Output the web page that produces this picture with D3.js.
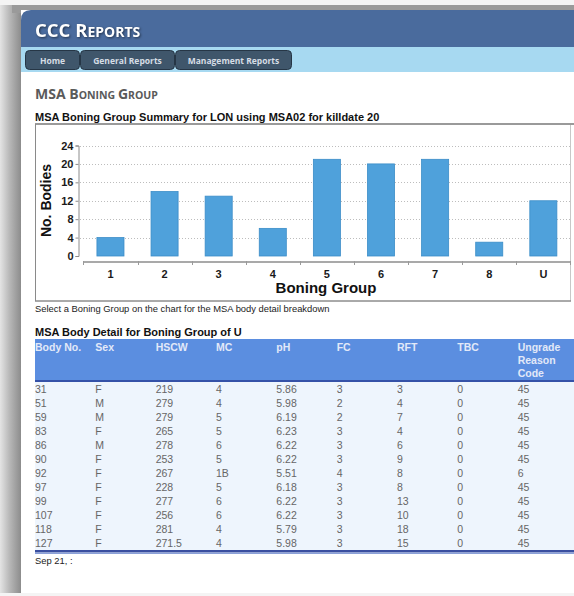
<!DOCTYPE html>
<html>
  <head>
    <meta charset="utf-8">
    <script type="text/javascript" src="https://d3js.org/d3.v7.min.js"></script>
    <style>
      body { margin: 0; background: #fff; }
      svg { display: block; }
      .chartfont { font-family: "Liberation Sans", Arial, sans-serif; }
      .hdr { font-family: "Open Sans", "Noto Sans", sans-serif; font-weight: bold; }
    </style>
  </head>
  <body>
    <script type="text/javascript">
      // boning group chart data
      var groups = ["1", "2", "3", "4", "5", "6", "7", "8", "U"];
      var bodies = [4, 14, 13, 6, 21, 20, 21, 3, 12];
      var yTicks = [0, 4, 8, 12, 16, 20, 24];

      // body detail table (group U)
      var columns = ["Body No.", "Sex", "HSCW", "MC", "pH", "FC", "RFT", "TBC", "Ungrade Reason Code"];
      var bodyNo = ["31", "51", "59", "83", "86", "90", "92", "97", "99", "107", "118", "127"];
      var sex    = ["F", "M", "M", "F", "M", "F", "F", "F", "F", "F", "F", "F"];
      var hscw   = ["219", "279", "279", "265", "278", "253", "267", "228", "277", "256", "281", "271.5"];
      var mc     = ["4", "4", "5", "5", "6", "5", "1B", "5", "6", "6", "4", "4"];
      var ph     = ["5.86", "5.98", "6.19", "6.23", "6.22", "6.22", "5.51", "6.18", "6.22", "6.22", "5.79", "5.98"];
      var fc     = ["3", "2", "2", "3", "3", "3", "4", "3", "3", "3", "3", "3"];
      var rft    = ["3", "4", "7", "4", "6", "9", "8", "8", "13", "10", "18", "15"];
      var tbc    = ["0", "0", "0", "0", "0", "0", "0", "0", "0", "0", "0", "0"];
      var reason = ["45", "45", "45", "45", "45", "45", "6", "45", "45", "45", "45", "45"];

      var navItems = ["Home", "General Reports", "Management Reports"];
      var navEdges = [25, 80, 175, 292];

      var width = 574, height = 596;
      var svg = d3.select("body").append("svg")
                  .attr("width", width)
                  .attr("height", height);

      // ---- page chrome ----
      var defs = svg.append("defs");
      var sh = defs.append("linearGradient").attr("id", "shadow").attr("x1", 0).attr("x2", 1);
      sh.append("stop").attr("offset", 0).attr("stop-color", "#e4e4e4");
      sh.append("stop").attr("offset", 0.45).attr("stop-color", "#b8b8b8");
      sh.append("stop").attr("offset", 1).attr("stop-color", "#8c8c8c");

      svg.append("rect").attr("x", 0).attr("y", 0).attr("width", width).attr("height", height).attr("fill", "#f4f4f4");
      svg.append("rect").attr("x", 0).attr("y", 5).attr("width", 21).attr("height", 588).attr("fill", "url(#shadow)");
      svg.append("rect").attr("x", 12).attr("y", 5).attr("width", width).attr("height", 8).attr("fill", "#9a9a9a");
      // white page
      svg.append("rect").attr("x", 21).attr("y", 10).attr("width", 560).attr("height", 583).attr("fill", "#fff");
      // header band with rounded corner
      svg.append("path")
        .attr("d", "M21,47 L21,20 Q21,10 31,10 L" + width + ",10 L" + width + ",47 Z")
        .attr("fill", "#4a6b9d");
      svg.append("rect").attr("x", 21).attr("y", 47).attr("width", width).attr("height", 25).attr("fill", "#a7d9f1");

      var title = svg.append("text").attr("class", "hdr").attr("x", 35).attr("y", 37)
        .attr("fill", "#fff").style("filter", "drop-shadow(1px 1px 1px rgba(0,0,0,0.5))");
      title.append("tspan").attr("font-size", 18.5).text("CCC R");
      title.append("tspan").attr("font-size", 14).text("EPORTS");

      var nav = svg.append("g");
      nav.selectAll("rect").data(navItems).enter().append("rect")
        .attr("x", function(d, i) { return navEdges[i] + 0.5; })
        .attr("y", 50.5)
        .attr("width", function(d, i) { return navEdges[i + 1] - navEdges[i] - 1; })
        .attr("height", 19)
        .attr("rx", 4)
        .attr("fill", "#3f566b")
        .attr("stroke", "#263646");
      nav.selectAll("text").data(navItems).enter().append("text")
        .attr("class", "hdr")
        .attr("x", function(d, i) { return (navEdges[i] + navEdges[i + 1]) / 2; })
        .attr("y", 63.5)
        .attr("text-anchor", "middle")
        .attr("font-size", 8.5)
        .attr("fill", "#d6dde5")
        .text(function(d) { return d; });

      var sub = svg.append("text").attr("class", "hdr").attr("x", 35).attr("y", 99).attr("fill", "#5a5a5a");
      sub.append("tspan").attr("font-size", 14).text("MSA B");
      sub.append("tspan").attr("font-size", 10.5).text("ONING ");
      sub.append("tspan").attr("font-size", 14).text("G");
      sub.append("tspan").attr("font-size", 10.5).text("ROUP");

      // ---- chart ----
      svg.append("text").attr("class", "chartfont").attr("x", 35).attr("y", 121)
        .attr("font-size", 11).attr("font-weight", "bold").attr("fill", "#111")
        .text("MSA Boning Group Summary for LON using MSA02 for killdate 20");

      // chart box
      svg.append("rect").attr("x", 35.5).attr("y", 124.5).attr("width", 535).attr("height", 176.5)
        .attr("fill", "#fff").attr("stroke", "#c8c8c8");
      svg.append("line").attr("x1", 35).attr("x2", width).attr("y1", 124).attr("y2", 124)
        .attr("stroke", "#9a9a9a").attr("stroke-width", 2);
      svg.append("line").attr("x1", 35).attr("x2", 571).attr("y1", 301).attr("y2", 301)
        .attr("stroke", "#707070").attr("stroke-width", 1);
      svg.append("line").attr("x1", 35.5).attr("x2", 35.5).attr("y1", 124).attr("y2", 301)
        .attr("stroke", "#8a8a8a");

      var x = d3.scaleBand().domain(groups).range([83.4, 570.4]).paddingInner(0.5).paddingOuter(0.25);
      var y = d3.scaleLinear().domain([0, 24]).range([256, 145.5]);

      var plot = svg.append("g").attr("class", "chartfont");

      // dotted gridlines
      plot.selectAll(".grid").data(yTicks.slice(1)).enter().append("line")
        .attr("class", "grid")
        .attr("x1", 80).attr("x2", 570)
        .attr("y1", function(d) { return Math.round(y(d)) + 0.5; })
        .attr("y2", function(d) { return Math.round(y(d)) + 0.5; })
        .attr("stroke", "#bdbdbd")
        .attr("stroke-dasharray", "1,2");

      plot.selectAll(".bar").data(bodies).enter().append("rect")
        .attr("class", "bar")
        .attr("x", function(d, i) { return x(groups[i]); })
        .attr("y", function(d) { return y(d); })
        .attr("width", x.bandwidth())
        .attr("height", function(d) { return y(0) - y(d); })
        .attr("fill", "#4fa1db")
        .attr("stroke", "#3b8dc8")
        .attr("stroke-width", 0.8);

      // y axis
      var yAxis = plot.append("g").attr("transform", "translate(78.5,0)")
        .call(d3.axisLeft(y).tickValues(yTicks).tickSize(3).tickPadding(2));
      yAxis.selectAll("path, line").attr("stroke", "#8c8c8c");
      yAxis.selectAll("text").attr("font-size", 11).attr("font-weight", "bold").attr("fill", "#1a1a1a")
        .attr("font-family", "Liberation Sans, Arial, sans-serif");

      // x axis
      var xAxis = plot.append("g").attr("transform", "translate(0,261.5)")
        .call(d3.axisBottom(x).tickSize(0).tickPadding(9));
      xAxis.select(".domain").attr("stroke", "#8c8c8c").attr("stroke-width", 1.5);
      xAxis.selectAll("text").attr("font-size", 11).attr("font-weight", "bold").attr("fill", "#1a1a1a")
        .attr("font-family", "Liberation Sans, Arial, sans-serif");
      // ticks sit between the categories
      var edges = groups.map(function(g) { return x(g) - (x.step() - x.bandwidth()) / 2; });
      edges.push(x.range()[1]);
      plot.selectAll(".xtick").data(edges).enter().append("line")
        .attr("class", "xtick")
        .attr("x1", function(d) { return Math.round(d) + 0.5; })
        .attr("x2", function(d) { return Math.round(d) + 0.5; })
        .attr("y1", 261).attr("y2", 265)
        .attr("stroke", "#9a9a9a");

      plot.append("text").attr("transform", "translate(51,200.5) rotate(-90)")
        .attr("text-anchor", "middle").attr("font-size", 14).attr("font-weight", "bold").attr("fill", "#111")
        .text("No. Bodies");
      plot.append("text").attr("x", 326).attr("y", 293)
        .attr("text-anchor", "middle").attr("font-size", 15).attr("font-weight", "bold").attr("fill", "#111")
        .text("Boning Group");

      svg.append("text").attr("class", "chartfont").attr("x", 35).attr("y", 312)
        .attr("font-size", 9.4).attr("fill", "#222")
        .text("Select a Boning Group on the chart for the MSA body detail breakdown");

      // ---- table ----
      svg.append("text").attr("class", "chartfont").attr("x", 35).attr("y", 336)
        .attr("font-size", 11).attr("font-weight", "bold").attr("fill", "#111")
        .text("MSA Body Detail for Boning Group of U");

      var col = d3.scaleBand().domain(columns).range([35, 578]);
      var rowY = d3.scaleBand().domain(bodyNo).range([382, 550]);

      svg.append("rect").attr("x", 35).attr("y", 339).attr("width", width - 35).attr("height", 41).attr("fill", "#5b8ee0");
      svg.append("rect").attr("x", 35).attr("y", 380).attr("width", width - 35).attr("height", 2).attr("fill", "#3552a8");
      svg.append("rect").attr("x", 35).attr("y", 382).attr("width", width - 35).attr("height", 168).attr("fill", "#eef5fd");
      svg.append("rect").attr("x", 35).attr("y", 550).attr("width", width - 35).attr("height", 2.5).attr("fill", "#3a4fa0");
      svg.append("rect").attr("x", 35).attr("y", 552.5).attr("width", width - 35).attr("height", 1.5).attr("fill", "#8aa0d8");

      var head = svg.append("g").attr("class", "chartfont");
      head.selectAll("text").data(columns).enter().append("text")
        .attr("x", function(d) { return col(d); })
        .attr("y", 351)
        .attr("font-size", 10.5).attr("font-weight", "bold").attr("fill", "#e2e9f8")
        .each(function(d) {
          var words = d === "Ungrade Reason Code" ? d.split(" ") : [d];
          var t = d3.select(this);
          words.forEach(function(w, i) {
            t.append("tspan").attr("x", col(d)).attr("dy", i ? 12.8 : 0).text(w);
          });
        });

      var tableCols = [bodyNo, sex, hscw, mc, ph, fc, rft, tbc, reason];
      var body = svg.append("g").attr("class", "chartfont");
      tableCols.forEach(function(values, c) {
        body.selectAll(".c" + c).data(values).enter().append("text")
          .attr("class", "c" + c)
          .attr("x", col(columns[c]))
          .attr("y", function(d, i) { return rowY(bodyNo[i]) + 10.5; })
          .attr("font-size", 10.5)
          .attr("fill", "#666")
          .text(function(d) { return d; });
      });

      svg.append("text").attr("class", "chartfont").attr("x", 35).attr("y", 564)
        .attr("font-size", 9.4).attr("fill", "#222").text("Sep 21, :");
    </script>
  </body>
</html>
